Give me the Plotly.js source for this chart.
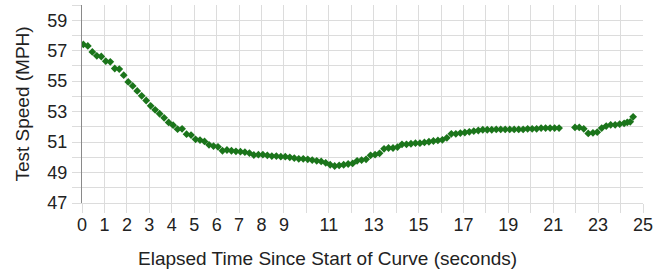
<!DOCTYPE html>
<html>
<head>
<meta charset="utf-8">
<script src="https://cdn.plot.ly/plotly-3.0.1.min.js"></script>
<style>html,body{margin:0;padding:0;background:#fff;}#chart{width:656px;height:273px;}</style>
</head>
<body>
<div id="chart"></div>
<script>
// Elapsed time (seconds)
const elapsedTime = [
  0.06,0.26,0.46,0.66,0.86,1.06,1.26,1.46,1.66,1.86,
  2.06,2.26,2.46,2.66,2.86,3.06,3.26,3.46,3.66,3.86,
  4.06,4.26,4.46,4.66,4.86,5.06,5.26,5.46,5.66,5.86,
  6.06,6.26,6.46,6.66,6.86,7.06,7.26,7.46,7.66,7.86,
  8.06,8.26,8.46,8.66,8.86,9.06,9.26,9.46,9.66,9.86,
  10.06,10.26,10.46,10.66,10.86,11.06,11.26,11.46,11.66,11.86,
  12.06,12.26,12.46,12.66,12.86,13.06,13.26,13.46,13.66,13.86,
  14.06,14.26,14.46,14.66,14.86,15.06,15.26,15.46,15.66,15.86,
  16.06,16.26,16.46,16.66,16.86,17.06,17.26,17.46,17.66,17.86,
  18.06,18.26,18.46,18.66,18.86,19.06,19.26,19.46,19.66,19.86,
  20.06,20.26,20.46,20.66,20.86,21.06,21.26,
  21.97,22.16,22.36,22.56,22.77,22.96,23.16,23.36,23.56,23.76,
  23.96,24.16,24.30,24.43,24.56
];
// Test speed (MPH)
const testSpeed = [
  57.41,57.31,56.92,56.66,56.62,56.31,56.27,55.83,55.79,55.39,
  54.95,54.69,54.36,54.04,53.73,53.38,53.12,52.86,52.59,52.29,
  52.11,51.85,51.87,51.52,51.46,51.18,51.13,51.04,50.82,50.74,
  50.69,50.43,50.48,50.43,50.39,50.37,50.34,50.28,50.15,50.17,
  50.17,50.13,50.08,50.08,50.04,50.04,50.00,49.95,49.90,49.90,
  49.87,49.82,49.77,49.73,49.64,49.51,49.43,49.47,49.51,49.56,
  49.60,49.77,49.82,49.87,50.13,50.17,50.26,50.56,50.61,50.61,
  50.67,50.85,50.85,50.89,50.93,50.93,50.98,51.02,51.07,51.11,
  51.15,51.28,51.54,51.54,51.59,51.63,51.67,51.72,51.76,51.81,
  51.81,51.81,51.83,51.83,51.83,51.83,51.83,51.83,51.83,51.87,
  51.87,51.87,51.92,51.92,51.92,51.92,51.92,
  51.96,51.96,51.87,51.57,51.61,51.65,51.92,52.05,52.13,52.13,
  52.18,52.23,52.30,52.33,52.66
];
const xTickVals = [0,1,2,3,4,5,6,7,8,9,11,13,15,17,19,21,23,25];
const yTickVals = [47,49,51,53,55,57,59];
const xTitle = 'Elapsed Time Since Start of Curve (seconds)';
const yTitle = 'Test Speed (MPH)';

const gridColor = '#dcdcdc';
const fontFam = 'Liberation Sans, Arial, sans-serif';

const trace = {
  x: elapsedTime, y: testSpeed, type: 'scatter', mode: 'markers',
  marker: {symbol: 'diamond', size: 6, color: '#1b751b'},
  hoverinfo: 'x+y'
};

const layout = {
  width: 656, height: 273,
  margin: {l: 82, r: 13, t: 5, b: 70},
  paper_bgcolor: '#fff', plot_bgcolor: '#fff',
  showlegend: false,
  font: {family: fontFam, size: 18, color: '#222'},
  xaxis: {
    range: [0, 25], tickvals: xTickVals, ticktext: xTickVals.map(String),
    showgrid: true, gridcolor: gridColor, gridwidth: 1,
    ticks: 'outside', ticklen: 9, tickcolor: gridColor,
    ticklabelstandoff: -4,
    minor: {dtick: 1, tick0: 0, showgrid: true, gridcolor: gridColor, ticks: 'outside', ticklen: 9, tickcolor: gridColor},
    showline: true, linecolor: gridColor, zeroline: false,
    tickfont: {size: 18, color: '#222'}
  },
  yaxis: {
    range: [47, 60], tickvals: yTickVals, ticktext: yTickVals.map(String),
    showgrid: true, gridcolor: gridColor, gridwidth: 1,
    ticks: 'outside', ticklen: 9, tickcolor: gridColor,
    ticklabelstandoff: 1,
    minor: {dtick: 1, tick0: 47, showgrid: true, gridcolor: gridColor, ticks: 'outside', ticklen: 9, tickcolor: gridColor},
    showline: true, linecolor: '#8a8a8a', zeroline: false,
    tickfont: {size: 18, color: '#222'},
    title: {text: yTitle, font: {size: 19, color: '#222'}, standoff: 12}
  },
  annotations: [{
    text: xTitle, xref: 'paper', yref: 'paper',
    x: 0.4385, y: -0.278, xanchor: 'center', yanchor: 'middle',
    showarrow: false, font: {size: 19, color: '#222'}
  }]
};

Plotly.newPlot('chart', [trace], layout, {staticPlot: true, displayModeBar: false});
</script>
</body>
</html>
